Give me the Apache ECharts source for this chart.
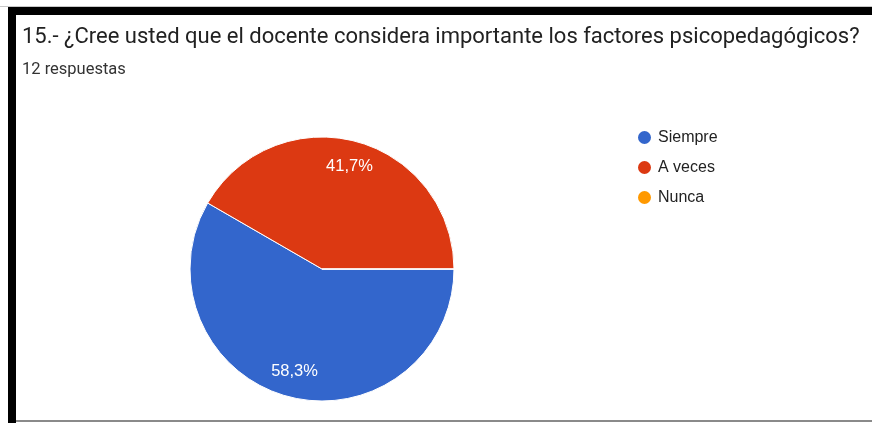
<!DOCTYPE html>
<html>
<head>
<meta charset="utf-8">
<script src="https://cdn.jsdelivr.net/npm/echarts@6/dist/echarts.min.js"></script>
<style>
html,body{margin:0;padding:0;background:#fff;}
#c{width:872px;height:423px;}
</style>
</head>
<body>
<div id="c"></div>
<script>
const titleText = "15.- ¿Cree usted que el docente considera importante los factores psicopedagógicos?";
const subtitleText = "12 respuestas";
const categories = ["Siempre", "A veces", "Nunca"];
const counts = [7, 5, 0];
const colors = ["#3366cc", "#dc3912", "#ff9900"];

const pieData = categories.map((n, i) => ({ name: n, value: counts[i] }));
const fmt = p => p.value === 0 ? '' : p.percent.toFixed(1).replace('.', ',') + '%';

const chart = echarts.init(document.getElementById('c'), null, { renderer: 'canvas' });
chart.setOption({
  animation: false,
  color: colors,
  backgroundColor: '#ffffff',
  title: {
    text: titleText,
    subtext: subtitleText,
    left: 17,
    top: 21,
    itemGap: 13,
    textStyle: { fontFamily: 'Roboto', fontSize: 22, fontWeight: 'normal', color: '#212121' },
    subtextStyle: { fontFamily: 'Roboto', fontSize: 16.5, color: '#333333' }
  },
  legend: {
    orient: 'vertical',
    left: 631,
    top: 124,
    icon: 'circle',
    itemWidth: 15,
    itemHeight: 15,
    itemGap: 13,
    data: categories,
    textStyle: { fontFamily: 'Arial, Liberation Sans', fontSize: 16, lineHeight: 16, color: '#222222', padding: [0, 0, 0, 1] }
  },
  graphic: [
    { type: 'rect', shape: { x: 0, y: 6, width: 872, height: 1 }, style: { fill: '#c8c8c8' }, silent: true },
    { type: 'rect', shape: { x: 8, y: 7, width: 864, height: 8 }, style: { fill: '#000000' }, silent: true },
    { type: 'rect', shape: { x: 8, y: 7, width: 8, height: 416 }, style: { fill: '#000000' }, silent: true },
    { type: 'rect', shape: { x: 16, y: 420, width: 856, height: 2 }, style: { fill: '#8a8a8a' }, silent: true }
  ],
  series: [
    {
      type: 'pie',
      center: [322, 269],
      radius: [0, 132],
      startAngle: 0,
      clockwise: true,
      silent: true,
      label: { show: false },
      labelLine: { show: false },
      itemStyle: { borderColor: '#ffffff', borderWidth: 1 },
      data: pieData
    },
    {
      type: 'pie',
      center: [322, 269],
      radius: [0, 206],
      startAngle: 0,
      clockwise: true,
      silent: true,
      z: 5,
      itemStyle: { color: 'rgba(0,0,0,0)' },
      label: {
        show: true,
        position: 'inside',
        formatter: fmt,
        fontFamily: 'Arial, Liberation Sans',
        fontSize: 16.5,
        color: '#ffffff'
      },
      labelLine: { show: false },
      data: pieData
    }
  ]
});
</script>
</body>
</html>
